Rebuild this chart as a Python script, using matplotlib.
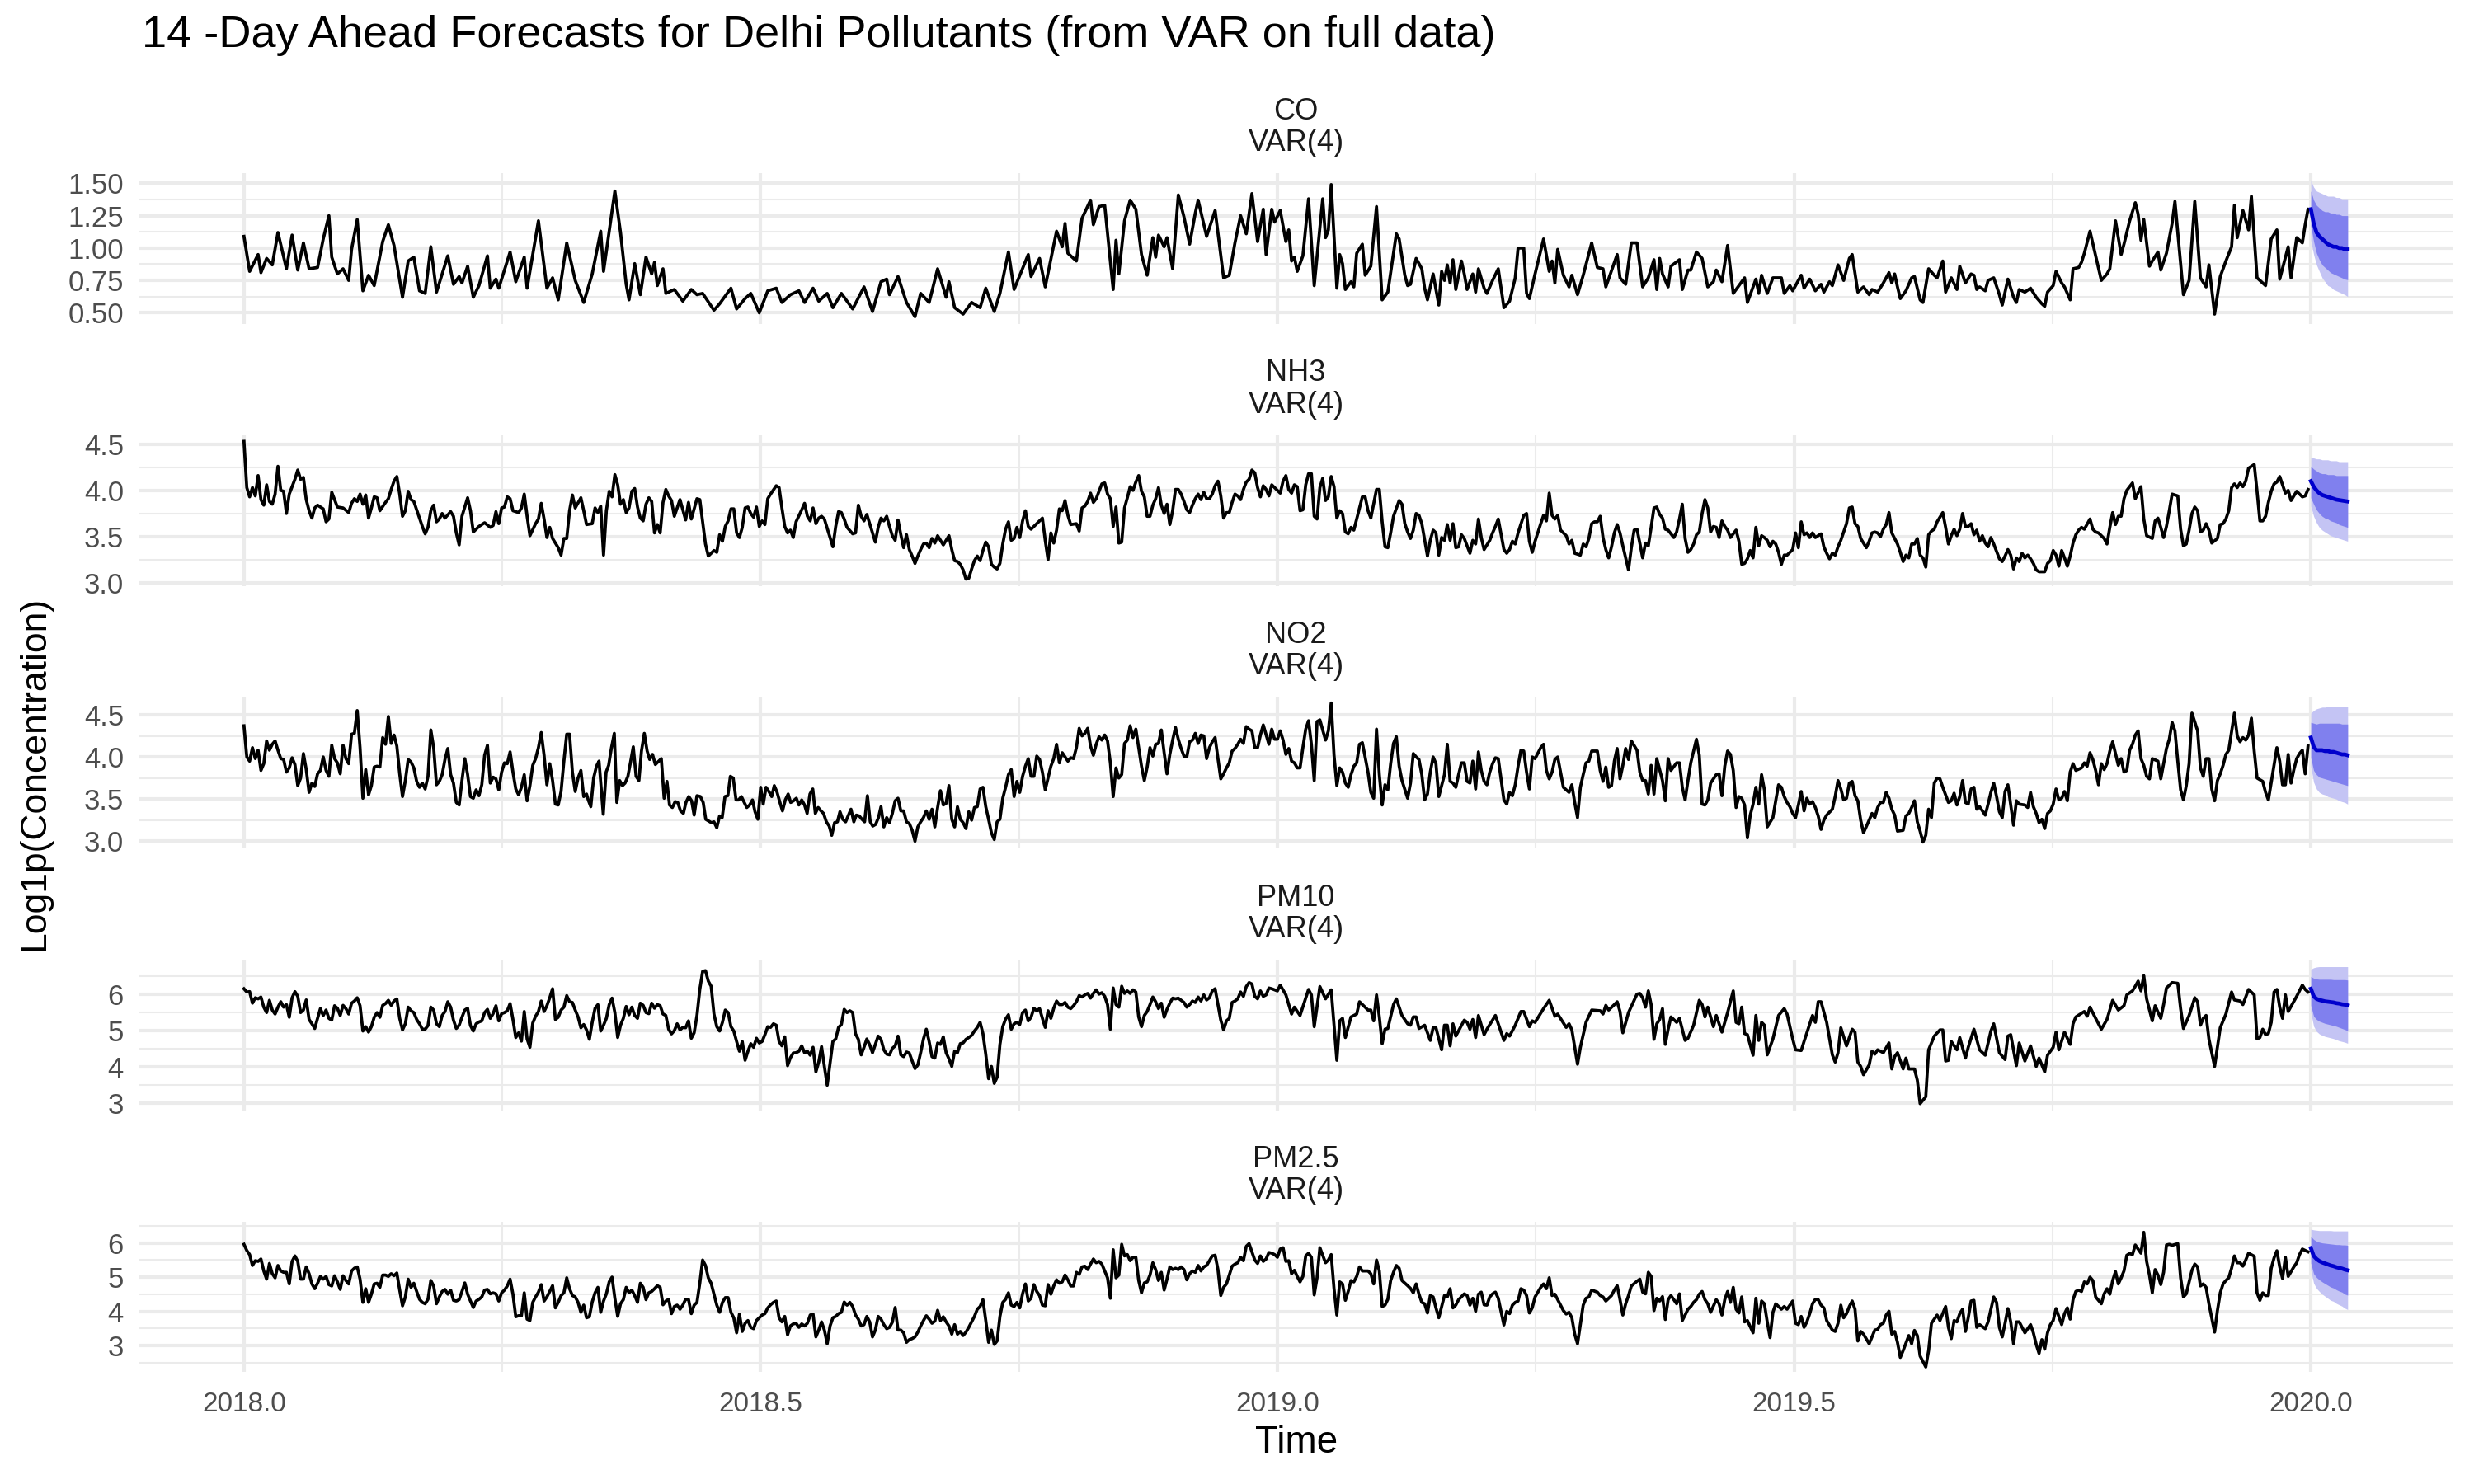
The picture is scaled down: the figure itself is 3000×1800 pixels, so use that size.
import numpy as np
import matplotlib
matplotlib.use("Agg")
import matplotlib.pyplot as plt

plt.rcParams['font.family'] = ['Liberation Sans', 'DejaVu Sans']

# ---------------- observed data (day index from 2018-01-01, log1p value) ----------------
co_obs = [(0,1.09),(2,0.82),(5,0.95),(6,0.81),(8,0.92),(10,0.87),(12,1.12),(15,0.84),(17,1.10),(19,0.83),(21,1.04),(23,0.84),(26,0.85),(28,1.07),(30,1.25),(31,0.93),(33,0.80),(35,0.84),(37,0.75),(38,0.99),(40,1.22),(42,0.67),(44,0.79),(46,0.71),(49,1.05),(51,1.18),(53,1.02),(56,0.62),(58,0.90),(60,0.93),(62,0.67),(64,0.65),(66,1.01),(68,0.66),(72,0.94),(74,0.72),(76,0.78),(77,0.73),(79,0.86),(81,0.62),(83,0.71),(86,0.94),(87,0.69),(89,0.76),(90,0.69),(94,0.97),(96,0.74),(99,0.93),(100,0.69),(104,1.21),(107,0.69),(109,0.77),(111,0.60),(114,1.04),(117,0.75),(120,0.58),(123,0.80),(126,1.13),(127,0.82),(131,1.44),(133,1.12),(135,0.72),(136,0.60),(138,0.88),(140,0.64),(142,0.93),(144,0.80),(145,0.89),(146,0.71),(148,0.84),(149,0.65),(152,0.68),(155,0.59),(158,0.68),(160,0.64),(162,0.65),(166,0.52),(168,0.57),(172,0.69),(174,0.53),(177,0.61),(179,0.65),(182,0.50),(185,0.67),(188,0.69),(190,0.58),(193,0.64),(196,0.67),(198,0.58),(201,0.69),(203,0.59),(206,0.65),(208,0.54),(211,0.65),(215,0.53),(219,0.70),(222,0.51),(225,0.74),(227,0.76),(228,0.64),(231,0.78),(234,0.58),(237,0.47),(239,0.65),(242,0.58),(245,0.84),(248,0.62),(249,0.74),(251,0.54),(254,0.49),(257,0.58),(260,0.54),(262,0.69),(265,0.51),(267,0.65),(270,0.97),(272,0.68),(277,0.95),(278,0.78),(281,0.92),(283,0.70),(287,1.13),(289,1.01),(290,1.19),(291,0.96),(294,0.90),(296,1.23),(299,1.37),(300,1.18),(302,1.32),(304,1.33),(307,0.68),(308,1.06),(309,0.80),(311,1.21),(313,1.37),(315,1.30),(317,0.95),(319,0.79),(321,1.08),(322,0.93),(323,1.10),(325,1.01),(326,1.08),(328,0.84),(330,1.41),(332,1.24),(334,1.03),(336,1.27),(337,1.37),(340,1.09),(343,1.29),(346,0.77),(348,0.79),(350,1.04),(352,1.25),(354,1.11),(356,1.42),(358,1.05),(360,1.30),(361,0.95),(363,1.30),
(364,1.20),(366,1.29),(368,1.05),(369,1.14),(370,0.90),(371,0.93),(372,0.82),(374,0.94),(376,1.38),(378,0.71),(381,1.38),(382,1.08),(383,1.14),(384,1.49),(386,0.69),(387,0.95),(388,0.88),(389,0.68),(391,0.74),(392,0.70),(393,0.96),(395,1.03),(396,0.79),(398,0.86),(400,1.32),(402,0.60),(404,0.66),(407,1.11),(408,1.07),(410,0.79),(411,0.71),(412,0.72),(414,0.92),(416,0.84),(417,0.69),(418,0.60),(420,0.80),(422,0.56),(423,0.82),(424,0.75),(425,0.87),(426,0.73),(427,0.91),(428,0.68),(430,0.90),(431,0.80),(432,0.68),(434,0.80),(435,0.66),(436,0.84),(438,0.69),(439,0.65),(441,0.75),(443,0.84),(445,0.54),(447,0.59),(449,0.77),(450,1.00),(452,1.00),(453,0.65),(454,0.61),(456,0.80),(459,1.07),(461,0.82),(462,0.90),(463,0.73),(464,0.99),(466,0.79),(468,0.70),(469,0.79),(471,0.64),(473,0.79),(476,1.04),(478,0.85),(480,0.84),(481,0.70),(485,0.95),(486,0.77),(488,0.72),(490,1.04),(492,1.04),(494,0.70),(496,0.77),(498,0.91),(499,0.68),(500,0.92),(501,0.80),(503,0.70),(504,0.86),(507,0.91),(508,0.68),(510,0.83),(511,0.83),(513,0.97),(515,0.92),(517,0.70),(519,0.74),(520,0.83),(522,0.74),(524,1.02),(526,0.65),(528,0.71),(530,0.77),(531,0.58),(534,0.76),(535,0.65),(536,0.79),(538,0.65),(540,0.77),(543,0.77),(544,0.65),(546,0.71),(547,0.67),(548,0.71),(550,0.79),(551,0.69),(553,0.76),(555,0.67),(557,0.72),(558,0.66),(560,0.74),(561,0.71),(563,0.87),(565,0.75),(567,0.92),(568,0.95),(570,0.66),(572,0.70),(574,0.64),(575,0.68),(577,0.66),(579,0.73),(581,0.81),(582,0.73),(583,0.80),(584,0.70),(585,0.61),(587,0.67),(589,0.77),(590,0.78),(592,0.60),(593,0.58),(595,0.84),(597,0.79),(598,0.77),(600,0.90),(601,0.66),(603,0.77),(605,0.68),(606,0.86),(608,0.73),(610,0.80),(611,0.79),(612,0.68),(613,0.70),(615,0.67),(616,0.75),(618,0.77),(620,0.64),(621,0.56),(623,0.76),(625,0.62),(626,0.58),(627,0.68),(629,0.66),(631,0.69),(633,0.62),(635,0.57),(636,0.55),(637,0.66),(639,0.71),(640,0.82),(642,0.73),(643,0.70),(645,0.60),(646,0.84),(648,0.85),(649,0.89),(650,0.96),(652,1.13),(654,0.94),(656,0.75),(658,0.80),(659,0.84),(661,1.21),(663,0.95),(664,1.03),(666,1.21),(668,1.35),(669,1.26),(670,1.06),(671,1.22),(673,0.86),(674,0.90),(676,0.97),(677,0.83),(679,0.96),(681,1.19),(682,1.36),(685,0.64),(687,0.75),(689,1.36),(691,0.77),(693,0.70),(694,0.87),(696,0.49),(698,0.78),(700,0.90),(702,1.01),(703,1.33),(704,1.08),(706,1.29),(708,1.14),(709,1.40),(711,0.77),(712,0.75),(714,0.71),(716,1.07),(718,1.14),(719,0.76),(722,1.01),(723,0.77),(725,1.08),(727,1.04),(728,1.18),(729,1.30)]

nh3_obs = [(0,4.53),(1,4.03),(2,3.93),(3,4.03),(4,3.94),(5,4.16),(6,3.90),(7,3.84),(8,4.06),(9,3.88),(10,3.85),(11,3.96),(12,4.26),(13,4.00),(14,3.99),(15,3.75),(16,3.96),(18,4.12),(19,4.22),(20,4.12),(21,4.14),(22,3.90),(23,3.78),(24,3.70),(25,3.81),(26,3.84),(27,3.82),(28,3.80),(29,3.66),(30,3.69),(31,3.98),(33,3.82),(35,3.81),(37,3.76),(38,3.86),(39,3.91),(40,3.88),(41,3.96),(42,3.85),(43,3.95),(44,3.70),(45,3.81),(46,3.93),(47,3.92),(48,3.78),(50,3.87),(51,3.91),(52,4.01),(53,4.10),(54,4.15),(55,3.96),(56,3.72),(57,3.78),(58,3.99),(59,3.90),(60,3.88),(62,3.70),(63,3.61),(64,3.53),(65,3.60),(66,3.78),(67,3.84),(68,3.66),(69,3.69),(70,3.75),(71,3.70),(73,3.77),(74,3.72),(75,3.54),(76,3.41),(77,3.72),(79,3.92),(80,3.78),(81,3.55),(83,3.61),(84,3.63),(85,3.65),(87,3.60),(88,3.62),(89,3.77),(90,3.64),(91,3.81),(92,3.82),(93,3.93),(94,3.91),(95,3.78),(97,3.76),(98,3.81),(99,3.96),(100,3.72),(101,3.51),(103,3.64),(104,3.69),(105,3.86),(106,3.69),(107,3.49),(108,3.60),(109,3.48),(111,3.38),(112,3.30),(113,3.48),(114,3.48),(115,3.78),(116,3.95),(117,3.81),(119,3.92),(120,3.78),(121,3.63),(123,3.64),(124,3.81),(125,3.76),(126,3.83),(127,3.30),(128,3.78),(129,3.99),(130,3.93),(131,4.17),(132,4.06),(133,3.85),(134,3.90),(135,3.76),(136,3.81),(137,3.99),(138,4.02),(139,3.82),(140,3.70),(141,3.67),(142,3.85),(143,3.92),(144,3.88),(145,3.54),(146,3.63),(147,3.54),(148,3.87),(149,4.01),(150,3.94),(151,3.89),(152,3.72),(154,3.90),(155,3.79),(156,3.68),(157,3.87),(158,3.69),(160,3.91),(161,3.90),(162,3.66),(163,3.42),(164,3.29),(166,3.35),(167,3.33),(168,3.52),(169,3.45),(170,3.61),(171,3.67),(172,3.80),(173,3.80),(174,3.54),(175,3.49),(176,3.60),(177,3.81),(178,3.82),(179,3.75),(180,3.71),(181,3.82),(182,3.61),(183,3.67),(184,3.63),(185,3.91),(186,3.96),(188,4.05),(189,4.03),(190,3.81),(191,3.61),(192,3.54),(193,3.57),(194,3.49),(195,3.66),(197,3.79),(198,3.86),(199,3.72),(200,3.67),(201,3.81),(202,3.64),(203,3.70),(204,3.72),(205,3.69),(207,3.49),(208,3.39),(209,3.61),(210,3.77),(211,3.76),(212,3.69),(213,3.60),(215,3.53),(216,3.54),(217,3.84),(218,3.72),(219,3.67),(220,3.74),(221,3.64),(223,3.44),(224,3.60),(225,3.70),(226,3.67),(227,3.72),(228,3.61),(229,3.51),(230,3.46),(231,3.68),(232,3.52),(233,3.38),(234,3.52),(235,3.36),(236,3.29),(237,3.21),(238,3.29),(239,3.36),(240,3.42),(241,3.43),(242,3.38),(243,3.48),(244,3.43),(245,3.51),(247,3.41),(248,3.46),(249,3.51),(250,3.36),(251,3.24),(252,3.23),(253,3.20),(254,3.14),(255,3.04),(256,3.05),(257,3.15),(258,3.24),(259,3.29),(260,3.24),(261,3.35),(262,3.44),(263,3.39),(264,3.20),(265,3.17),(266,3.15),(267,3.21),(268,3.42),(269,3.58),(270,3.66),(271,3.46),(272,3.48),(273,3.60),(274,3.49),(275,3.67),(276,3.78),(277,3.61),(278,3.58),(280,3.64),(281,3.67),(282,3.70),(283,3.46),(284,3.25),(285,3.54),(286,3.43),(287,3.57),(288,3.80),(289,3.78),(290,3.89),(291,3.73),(292,3.63),(294,3.64),(295,3.56),(296,3.81),(297,3.83),(298,3.88),(299,3.97),(300,3.87),(301,3.91),(302,3.99),(303,4.07),(304,4.08),(305,3.96),(306,3.91),(307,3.61),(308,3.82),(309,3.43),(310,3.44),(311,3.81),(312,3.92),(313,4.04),(314,4.00),(315,4.09),(316,4.16),(317,3.99),(318,3.93),(319,3.72),(320,3.72),(321,3.84),(322,3.91),(323,4.03),(324,3.84),(325,3.75),(326,3.85),(327,3.63),(328,3.78),(329,4.01),(330,4.01),(331,3.96),(332,3.88),(333,3.79),(334,3.76),(335,3.84),(336,3.91),(337,3.96),(338,3.90),(339,3.98),(340,3.91),(341,3.91),(342,3.96),(343,4.05),(344,4.10),(345,3.94),(346,3.70),(347,3.76),(348,3.76),(349,3.87),(350,3.96),(351,3.94),(352,3.90),(353,4.01),(354,4.09),(355,4.12),(356,4.22),(357,4.19),(358,4.03),(359,3.93),(360,4.05),(361,4.01),(362,3.94),(363,4.06),(364,4.03),
(366,3.97),(367,4.10),(368,4.16),(369,4.01),(370,3.97),(371,4.06),(372,4.04),(373,3.78),(374,3.79),(375,4.06),(376,4.18),(377,4.18),(378,3.72),(379,3.69),(380,4.03),(381,4.13),(382,3.89),(383,3.93),(384,4.15),(385,4.04),(386,3.70),(387,3.78),(388,3.75),(389,3.55),(390,3.53),(391,3.60),(392,3.57),(393,3.69),(395,3.93),(396,3.93),(397,3.78),(398,3.70),(400,4.01),(401,4.01),(402,3.66),(403,3.39),(404,3.38),(405,3.54),(406,3.72),(408,3.89),(409,3.85),(410,3.64),(411,3.55),(412,3.48),(413,3.57),(414,3.75),(415,3.73),(416,3.64),(418,3.29),(419,3.46),(420,3.57),(421,3.54),(422,3.30),(423,3.49),(424,3.46),(425,3.63),(426,3.46),(427,3.64),(428,3.38),(429,3.39),(430,3.52),(431,3.48),(433,3.32),(434,3.46),(435,3.42),(436,3.69),(437,3.49),(438,3.36),(440,3.46),(441,3.54),(442,3.61),(443,3.69),(445,3.36),(446,3.32),(447,3.36),(448,3.45),(449,3.42),(450,3.54),(452,3.73),(453,3.75),(454,3.45),(455,3.33),(456,3.45),(458,3.64),(459,3.73),(460,3.67),(461,3.97),(462,3.73),(463,3.69),(464,3.73),(465,3.57),(466,3.54),(467,3.51),(468,3.42),(469,3.46),(470,3.32),(472,3.30),(473,3.42),(474,3.39),(475,3.48),(476,3.64),(477,3.66),(478,3.66),(479,3.72),(480,3.49),(481,3.36),(482,3.27),(483,3.39),(484,3.54),(485,3.63),(486,3.54),(487,3.40),(489,3.14),(490,3.38),(491,3.57),(492,3.58),(493,3.43),(494,3.27),(495,3.43),(496,3.40),(497,3.60),(498,3.81),(499,3.82),(500,3.74),(501,3.70),(502,3.58),(503,3.57),(505,3.49),(506,3.55),(507,3.69),(508,3.85),(509,3.48),(510,3.33),(511,3.36),(512,3.42),(513,3.52),(514,3.55),(515,3.75),(516,3.90),(517,3.81),(518,3.55),(519,3.61),(520,3.60),(521,3.49),(522,3.67),(523,3.61),(524,3.57),(525,3.49),(527,3.57),(528,3.45),(529,3.20),(530,3.21),(531,3.26),(532,3.35),(533,3.27),(534,3.60),(535,3.40),(536,3.51),(537,3.49),(538,3.46),(539,3.39),(540,3.45),(541,3.42),(542,3.33),(543,3.20),(544,3.30),(545,3.30),(547,3.36),(548,3.54),(549,3.38),(550,3.66),(551,3.52),(552,3.54),(553,3.49),(554,3.54),(555,3.49),(557,3.53),(558,3.39),(559,3.32),(560,3.26),(561,3.32),(562,3.30),(563,3.39),(564,3.46),(565,3.55),(566,3.64),(567,3.81),(568,3.82),(569,3.64),(570,3.61),(571,3.48),(573,3.38),(574,3.45),(575,3.54),(576,3.55),(577,3.54),(578,3.50),(579,3.58),(580,3.63),(581,3.76),(582,3.54),(584,3.42),(585,3.33),(586,3.23),(587,3.30),(588,3.27),(589,3.42),(590,3.42),(591,3.48),(592,3.30),(593,3.27),(594,3.17),(595,3.52),(596,3.56),(597,3.58),(598,3.66),(600,3.76),(601,3.60),(602,3.42),(603,3.51),(604,3.58),(605,3.51),(606,3.58),(607,3.75),(608,3.61),(609,3.61),(610,3.64),(611,3.52),(612,3.57),(613,3.45),(614,3.51),(615,3.43),(616,3.39),(617,3.49),(618,3.42),(620,3.26),(621,3.23),(622,3.29),(623,3.36),(624,3.30),(625,3.15),(626,3.27),(627,3.23),(628,3.32),(629,3.27),(630,3.30),(631,3.26),(632,3.21),(633,3.14),(634,3.12),(636,3.12),(637,3.21),(638,3.24),(639,3.35),(640,3.30),(641,3.18),(642,3.35),(643,3.27),(644,3.18),(645,3.29),(646,3.43),(647,3.52),(648,3.57),(649,3.60),(650,3.58),(652,3.69),(653,3.58),(654,3.55),(655,3.54),(656,3.51),(657,3.48),(658,3.42),(659,3.60),(660,3.76),(661,3.63),(662,3.72),(663,3.72),(664,3.91),(665,4.00),(666,4.04),(667,4.08),(668,3.91),(670,4.04),(671,3.69),(672,3.51),(674,3.48),(675,3.67),(676,3.70),(677,3.60),(678,3.49),(679,3.61),(680,3.78),(681,3.96),(683,3.94),(684,3.58),(685,3.40),(686,3.42),(687,3.57),(688,3.75),(689,3.82),(690,3.78),(691,3.55),(692,3.57),(693,3.64),(694,3.57),(695,3.43),(697,3.48),(698,3.63),(699,3.64),(700,3.69),(701,3.78),(702,4.03),(703,4.07),(704,4.03),(705,4.08),(706,4.04),(707,4.10),(708,4.24),(710,4.28),(711,3.99),(712,3.67),(713,3.67),(714,3.72),(715,3.87),(716,3.99),(717,4.07),(718,4.09),(719,4.15),(720,4.06),(721,3.97),(722,4.00),(723,3.89),(725,3.99),(726,3.96),(727,3.93),(728,3.94),(729,4.01)]

no2_obs = [(0,4.37),(1,4.00),(2,3.95),(3,4.11),(4,3.98),(5,4.08),(6,3.84),(7,3.92),(8,4.19),(9,4.08),(10,4.15),(11,4.19),(12,4.08),(13,3.98),(14,3.97),(15,3.82),(16,3.87),(17,3.99),(18,3.91),(19,3.66),(20,3.75),(21,4.04),(22,3.85),(23,3.58),(24,3.69),(25,3.65),(26,3.80),(27,3.84),(28,4.00),(29,3.84),(30,3.77),(31,4.14),(32,3.98),(33,3.93),(34,3.80),(35,4.14),(36,3.98),(37,3.92),(38,4.27),(39,4.28),(40,4.55),(41,4.11),(42,3.51),(43,3.85),(44,3.55),(45,3.66),(46,3.88),(47,3.89),(48,3.88),(49,4.23),(50,4.15),(51,4.48),(52,4.16),(53,4.26),(54,4.13),(55,3.80),(56,3.53),(57,3.72),(58,3.97),(59,3.94),(60,3.87),(61,3.71),(62,3.64),(63,3.69),(64,3.62),(65,3.77),(66,4.32),(67,4.11),(68,3.67),(69,3.71),(70,3.79),(71,3.97),(72,4.10),(73,3.79),(74,3.69),(75,3.46),(76,3.43),(77,3.72),(78,3.98),(79,3.79),(80,3.53),(81,3.51),(82,3.61),(83,3.54),(84,3.67),(85,4.02),(86,4.14),(87,3.69),(88,3.76),(89,3.74),(90,3.61),(91,3.82),(92,3.93),(93,3.92),(94,4.06),(95,3.82),(96,3.62),(97,3.55),(98,3.64),(99,3.79),(100,3.48),(101,3.66),(102,3.90),(103,3.98),(104,4.11),(105,4.29),(106,4.02),(107,3.67),(108,3.92),(109,3.72),(110,3.44),(111,3.43),(112,3.59),(113,3.95),(114,4.27),(115,4.27),(116,3.82),(117,3.59),(118,3.75),(119,3.84),(120,3.53),(121,3.56),
(121.6,3.49),(122.5,3.41),(123.5,3.75),(124.5,3.89),(125.4,3.95),(126.9,3.32),(127.9,3.82),(128.8,3.90),(129.8,4.11),(130.8,4.28),(131.7,3.46),(132.7,3.72),(133.7,3.66),(134.6,3.69),(135.6,3.77),(136.6,3.95),(137.5,4.12),(138.5,3.77),(139.5,3.72),(140.4,4.07),(141.4,4.28),(142.4,4.07),(143.3,3.97),(144.3,4.03),(145.3,3.91),(146.2,3.94),(147.4,3.98),(148.4,3.51),(149.4,3.71),(150.3,3.43),(151.3,3.40),(152.3,3.47),(153.2,3.46),(154.2,3.36),(155.2,3.33),(156.1,3.46),(157.1,3.53),(158.1,3.48),(159.0,3.31),(160.0,3.54),(161.2,3.53),(162.2,3.46),(163.1,3.26),(164.1,3.24),(165.1,3.22),(166.0,3.23),(167.0,3.16),(168.0,3.30),(168.9,3.28),(169.9,3.53),(170.9,3.54),(171.8,3.77),(172.8,3.75),(173.8,3.49),(174.7,3.49),(175.7,3.53),(176.7,3.46),(177.6,3.40),(178.6,3.43),(179.6,3.49),(180.5,3.35),(181.5,3.26),(182.5,3.64),(183.4,3.44),(184.4,3.64),(185.4,3.59),(186.4,3.53),(187.3,3.66),(188.3,3.58),(189.3,3.46),(190.2,3.36),(191.2,3.49),(192.2,3.56),(193.1,3.46),(194.1,3.48),(195.1,3.51),(196.0,3.43),(197.0,3.49),(198.0,3.43),(198.9,3.33),(199.9,3.56),(200.9,3.62),(201.8,3.33),(202.8,3.40),(203.8,3.36),(204.7,3.33),(205.7,3.23),(206.7,3.18),(207.6,3.07),(208.6,3.22),(209.6,3.23),(210.5,3.35),(211.5,3.26),(212.5,3.23),(213.4,3.30),(214.4,3.38),(215.4,3.23),(216.3,3.31),(217.3,3.30),(218.3,3.26),(219.2,3.23),(220.2,3.54),(221.2,3.23),(222.1,3.18),(223.1,3.20),(224.1,3.28),(225.0,3.41),(226.0,3.17),(227.0,3.28),
(228,3.22),(229,3.33),(230,3.48),(231,3.51),(232,3.36),(233,3.36),(234,3.23),(235,3.21),(236,3.13),(237,3.00),(238,3.17),(239,3.23),(240,3.28),(241,3.36),(242,3.26),(243,3.38),(244,3.17),(245,3.40),(246,3.60),(247,3.43),(248,3.45),(249,3.66),(250,3.26),(251,3.17),(252,3.41),(253,3.26),(254,3.22),(255,3.15),(256,3.35),(257,3.25),(258,3.40),(259,3.41),(260,3.62),(261,3.64),(262,3.41),(263,3.26),(264,3.10),(265,3.02),(266,3.23),(267,3.26),(268,3.51),(269,3.64),(270,3.79),(271,3.85),(272,3.53),(273,3.71),(274,3.58),(275,3.77),(276,3.89),(277,3.98),(278,3.77),(279,3.77),(280,4.01),(281,3.97),(282,3.82),(283,3.61),(284,3.75),(285,3.89),(286,3.98),(287,4.15),(288,3.93),(289,4.05),(290,4.00),(291,3.95),(292,3.99),(293,3.98),(294,4.11),(295,4.34),(296,4.25),(297,4.28),(298,4.34),(299,4.13),(300,4.02),(301,4.15),(302,4.24),(303,4.20),(304,4.26),(305,4.19),(306,3.93),(307,3.53),(308,3.87),(309,3.75),(310,3.79),(311,4.16),(312,4.20),(313,4.37),(314,4.23),(315,4.33),(316,4.11),(317,3.89),(318,3.72),(319,3.88),(320,4.11),(321,4.01),(322,4.15),(323,4.16),(324,4.32),(325,4.05),(326,3.80),(327,4.03),(328,4.20),(329,4.35),(330,4.21),(331,4.10),(332,4.01),(333,4.00),(334,4.18),(335,4.20),(336,4.28),(337,4.16),(338,4.26),(339,4.25),(340,3.98),(341,4.11),(342,4.18),(343,4.23),(344,3.98),(345,3.74),(346,3.80),(347,3.87),(348,3.93),(349,4.07),(350,4.10),(351,4.15),(352,4.21),(353,4.16),(354,4.36),(355,4.33),(356,4.31),(357,4.11),(358,4.11),(359,4.26),(360,4.38),
(362,4.15),(363,4.33),(364,4.21),(365,4.21),(366,4.31),(367,4.20),(368,4.03),(369,4.10),(370,3.95),(371,3.93),(372,3.87),(373,3.87),(374,4.11),(375,4.33),(376,4.43),(377,4.15),(378,3.72),(379,4.42),(380,4.44),(382,4.20),(383,4.31),(384,4.64),(385,4.02),(386,3.66),(387,3.87),(388,3.82),(389,3.69),(390,3.64),(391,3.79),(392,3.89),(393,3.93),(394,4.15),(395,4.17),(397,3.82),(398,3.58),(399,3.51),(400,4.33),(401,3.79),(402,3.43),(403,3.67),(404,3.61),(405,3.92),(406,4.16),(407,4.24),(408,3.89),(409,3.72),(411,3.51),(412,3.69),(413,4.04),(414,4.00),(415,3.97),(416,3.79),(417,3.49),(418,3.56),(419,3.82),(420,4.00),(421,3.92),(422,3.53),(424,3.79),(425,4.15),(426,3.71),(427,3.69),(428,3.64),(429,3.79),(430,3.93),(431,3.93),(432,3.71),(433,3.69),(434,3.95),(435,3.62),(436,4.06),(437,3.84),(438,3.71),(439,3.67),(440,3.82),(441,3.92),(442,3.99),(443,3.98),(445,3.49),(446,3.44),(447,3.58),(448,3.54),(449,3.67),(450,3.89),(451,4.08),(452,4.07),(453,3.82),(454,3.62),(455,4.00),(456,3.98),(458,4.11),(459,4.15),(460,3.84),(461,3.74),(462,3.82),(463,3.97),(464,4.00),(465,3.82),(466,3.64),(467,3.61),(468,3.58),(469,3.67),(470,3.46),(471,3.28),(472,3.64),(473,3.79),(474,3.93),(475,3.95),(476,4.07),(478,4.07),(479,3.84),(480,3.71),(481,3.88),(482,3.64),(483,3.66),(484,3.95),(485,4.10),(486,3.74),(487,3.90),(488,4.10),(489,3.97),(490,4.19),(492,4.08),(493,3.82),(494,3.72),(495,3.72),(496,3.56),(497,3.90),(498,3.56),(499,3.98),(500,3.85),(501,3.72),(502,3.48),(503,3.98),(504,3.84),(506,3.93),(507,3.93),(508,3.64),(509,3.49),(510,3.72),(511,3.93),(512,4.07),(513,4.21),(514,4.02),(515,3.44),(516,3.43),(517,3.49),(518,3.69),(520,3.79),(521,3.80),(522,3.54),(523,3.89),(524,4.07),(525,4.03),(526,3.84),(527,3.40),(528,3.53),(529,3.51),(530,3.43),(531,3.04),(532,3.31),(533,3.44),(534,3.64),(535,3.44),(536,3.79),(537,3.61),(538,3.17),(540,3.28),(541,3.48),(542,3.67),(543,3.64),(544,3.53),(545,3.46),(546,3.41),(547,3.33),(548,3.28),(549,3.43),(550,3.59),(551,3.36),(552,3.51),(553,3.44),(554,3.47),(555,3.40),(556,3.30),(557,3.14),(558,3.25),(559,3.31),(561,3.38),(562,3.53),(563,3.72),(564,3.62),(565,3.49),(566,3.51),(567,3.69),(568,3.71),(569,3.54),(570,3.48),(571,3.25),(572,3.10),(574,3.25),(575,3.33),(576,3.28),(577,3.40),(578,3.46),(579,3.46),(580,3.58),(581,3.51),(582,3.38),(583,3.31),(584,3.12),(586,3.13),(587,3.30),(588,3.33),(589,3.40),(590,3.48),(591,3.23),(592,3.12),(593,2.99),(594,3.07),(595,3.38),(596,3.28),(597,3.69),(598,3.75),(599,3.74),(600,3.64),(602,3.46),(603,3.48),(604,3.57),(605,3.43),(606,3.53),(607,3.72),(608,3.46),(609,3.44),(610,3.62),(611,3.64),(612,3.38),(613,3.41),(615,3.31),(616,3.44),(617,3.58),(618,3.69),(619,3.53),(620,3.35),(621,3.28),(622,3.59),(623,3.67),(624,3.43),(625,3.19),(626,3.48),(627,3.44),(629,3.43),(630,3.40),(631,3.58),(632,3.41),(633,3.33),(634,3.22),(635,3.26),(636,3.15),(637,3.33),(638,3.36),(639,3.44),(640,3.62),(641,3.49),(642,3.51),(643,3.59),(644,3.48),(645,3.82),(646,3.92),(647,3.84),(649,3.87),(650,3.93),(651,3.89),(652,4.05),(653,3.97),(654,3.84),(655,3.67),(656,3.92),(657,3.85),(658,3.92),(659,4.07),(660,4.18),(662,3.90),(663,3.98),(664,3.82),(665,3.84),(666,4.08),(667,4.15),(668,4.26),(669,4.31),(670,3.98),(671,3.90),(672,3.77),(673,3.74),(674,3.98),(676,3.95),(677,3.74),(678,3.92),(679,4.10),(680,4.21),(681,4.41),(682,4.31),(683,3.95),(684,3.61),(685,3.49),(686,3.66),(687,3.92),(688,4.52),(690,4.31),(691,3.87),(692,3.77),(693,3.98),(694,3.98),(695,3.62),(696,3.48),(697,3.72),(698,3.80),(699,3.90),(700,4.03),(701,4.08),(703,4.52),(704,4.25),(705,4.18),(706,4.23),(707,4.20),(708,4.26),(709,4.46),(710,4.07),(711,3.75),(712,3.73),(713,3.71),(714,3.58),(715,3.49),(717,3.90),(718,4.11),(719,3.95),(720,3.67),(721,3.67),(722,4.03),(723,3.69),(724,3.85),(725,3.98),(726,4.04),(727,4.08),(728,3.80),(729,4.13)]

# PM10 / PM2.5: first year read day by day (day 0 ... 363), second year as (day, value)
pm10_y1 = [6.16,6.07,6.08,5.76,5.91,5.88,5.93,5.65,5.50,5.84,
5.57,5.46,5.65,5.80,5.65,5.72,5.37,5.91,6.08,5.95,
5.50,5.57,5.85,5.31,5.19,5.06,5.34,5.61,5.42,5.57,
5.34,5.29,5.69,5.62,5.42,5.70,5.61,5.46,5.76,
5.82,5.91,5.69,4.99,5.11,4.96,5.11,5.37,5.50,5.37,
5.70,5.75,5.84,5.70,5.82,5.88,5.34,5.02,5.19,5.65,
5.55,5.50,5.31,5.19,5.04,5.04,5.14,5.65,5.57,5.19,
5.11,5.42,5.53,5.80,5.65,5.29,5.06,5.15,5.37,
5.57,5.62,5.14,4.99,5.19,5.24,5.27,5.50,5.59,5.34,
5.47,5.69,5.27,5.47,5.50,5.55,5.75,5.31,4.81,4.94,
4.71,5.53,4.77,4.54,5.21,5.40,5.53,5.82,5.53,
5.69,5.91,6.16,5.31,5.37,5.57,5.65,5.97,5.80,5.78,
5.57,5.38,5.08,5.17,5.02,4.76,5.23,5.62,5.72,4.99,
5.15,5.34,5.72,5.90,5.50,4.81,5.15,5.34,5.67,5.44,
5.65,5.42,5.34,5.76,5.70,5.50,5.47,5.76,5.62,
5.72,5.69,5.46,5.42,5.04,4.91,5.00,5.19,5.02,5.09,
5.08,5.27,4.79,4.94,5.42,6.14,6.64,6.66,6.37,6.23,
5.46,5.11,4.99,5.23,5.57,5.50,5.11,4.99,4.70,
4.43,4.70,4.18,4.43,4.64,4.54,4.79,4.66,4.70,4.89,
5.11,5.09,5.19,5.15,4.70,4.58,4.83,4.03,4.25,4.38,
4.39,4.43,4.58,4.39,4.43,4.32,4.54,3.86,4.13,4.56,
4.01,3.49,4.09,4.70,4.77,5.09,5.17,5.59,5.50,
5.55,5.50,4.91,4.76,4.33,4.54,4.77,4.61,4.39,4.62,
4.85,4.76,4.47,4.35,4.33,4.51,4.58,4.85,4.33,4.28,
4.41,4.38,4.16,3.95,4.05,4.39,4.77,5.04,4.70,
4.28,4.24,4.66,4.62,4.83,4.39,4.22,4.01,4.43,4.39,
4.64,4.66,4.76,4.81,4.87,4.99,5.09,5.23,4.92,
4.35,3.67,4.01,3.54,3.71,4.62,5.11,5.32,5.44,5.04,
5.19,5.23,5.17,5.50,5.57,5.27,5.37,5.62,5.55,5.61,
5.34,5.09,5.55,5.34,5.62,5.82,5.72,5.72,5.78,
5.65,5.61,5.69,5.80,5.97,5.93,5.99,6.03,5.90,6.03,
6.13,6.01,6.05,5.95,5.72,5.04,6.18,5.72,5.65,6.23,
6.03,6.10,6.03,6.13,6.07,5.38,5.11,5.42,5.53,5.72,
5.93,5.80,5.61,5.76,5.37,5.59,5.76,5.90,5.88,
5.90,5.84,5.78,5.65,5.72,5.82,5.78,5.93,5.82,5.99,
5.85,5.91,6.10,6.16,5.72,5.29,5.02,5.27,5.34,
5.78,5.82,5.88,6.07,5.95,6.22,6.33,6.29,5.95,5.88,
6.10,5.95,5.99,6.18,6.16]

pm10_y2 = [(365,6.10),(366,6.26),(368,5.99),(370,5.46),(371,5.65),(373,5.42),(376,6.14),(377,5.99),(378,5.11),(380,6.22),(382,5.88),(384,6.13),(386,4.18),(387,5.27),(388,5.34),(389,4.81),(391,5.38),(393,5.46),(394,5.80),(397,5.57),(398,5.57),(399,5.27),(400,5.99),(401,5.38),(402,4.64),(403,5.04),(404,5.06),(406,5.72),(407,5.88),(409,5.42),(411,5.19),(412,5.15),(413,5.38),(414,5.38),(415,5.06),(417,5.15),(419,4.73),(420,5.08),(421,5.08),(423,4.47),(424,5.15),(425,5.15),(426,4.58),(427,5.19),(428,4.85),(431,5.29),(432,5.23),(433,5.04),(434,5.31),(435,4.81),(436,5.42),(438,4.89),(439,5.04),(442,5.42),(445,4.73),(446,4.92),(447,4.85),(449,5.15),(451,5.53),(452,5.53),(454,5.11),(455,5.27),(456,5.23),(459,5.61),(461,5.84),(463,5.40),(464,5.46),(467,5.09),(468,5.19),(469,5.02),(471,4.07),(472,4.54),(474,5.23),(476,5.57),(479,5.55),(480,5.46),(481,5.70),(482,5.57),(484,5.72),(485,5.80),(486,5.53),(487,4.94),(489,5.50),(492,6.01),(493,6.03),(494,5.91),(495,5.65),(496,6.10),(497,5.72),(498,4.76),(499,5.19),(500,5.31),(501,5.61),(502,4.62),(503,5.04),(504,5.38),(506,5.23),(507,5.34),(509,4.73),(510,4.79),(512,5.15),(514,5.84),(515,5.72),(516,5.38),(517,5.65),(519,5.11),(520,5.42),(522,4.96),(524,5.50),(526,6.10),(527,5.23),(528,5.19),(529,5.65),(530,4.92),(531,4.89),(533,4.32),(534,5.42),(535,4.73),(536,5.23),(537,5.15),(538,4.33),(540,4.77),(542,5.42),(544,5.61),(545,5.46),(547,4.77),(548,4.47),(550,4.45),(551,4.70),(554,5.42),(555,5.23),(556,5.80),(557,5.80),(559,5.23),(561,4.33),(562,4.13),(563,4.39),(564,5.08),(566,4.58),(568,5.04),(569,4.96),(570,4.13),(571,4.01),(572,3.78),(574,4.05),(575,4.43),(576,4.35),(577,4.47),(579,4.39),(581,4.66),(582,3.94),(583,4.28),(584,4.39),(586,3.94),(587,4.24),(588,3.94),(590,3.94),(591,3.63),(592,2.98),(594,3.17),(595,4.47),(597,4.85),(599,5.02),(600,5.02),(601,4.16),(602,4.18),(603,4.70),(605,4.47),(606,4.81),(608,4.24),(609,4.54),(611,5.04),(613,4.47),(615,4.32),(617,4.99),(618,5.19),(620,4.39),(622,4.20),(623,4.85),(624,4.89),(626,4.03),(627,4.66),(629,4.16),(631,4.58),(633,4.01),(634,4.24),(636,3.86),(637,4.32),(639,4.54),(640,4.96),(641,4.47),(643,4.96),(645,4.62),(646,5.19),(647,5.38),(650,5.53),(651,5.40),(652,5.65),(654,5.34),(656,5.04),(658,5.31),(660,5.84),(662,5.57),(664,5.69),(665,5.99),(667,6.10),(668,6.23),(669,6.37),(670,6.10),(671,6.52),(672,5.88),(674,5.27),(675,5.69),(677,5.34),(678,5.72),(679,6.18),(681,6.33),(683,6.31),(684,5.61),(685,5.06),(687,5.42),(689,5.91),(690,5.80),(691,5.15),(692,5.34),(693,5.42),(694,4.77),(696,4.01),(697,4.54),(698,5.08),(700,5.46),(702,6.07),(703,5.85),(705,5.82),(706,5.72),(708,6.14),(710,5.99),(711,4.77),(712,4.81),(713,5.04),(714,4.89),(715,4.92),(716,5.23),(717,6.07),(718,6.14),(719,5.65),(720,5.34),(721,5.99),(722,5.53),(725,5.95),(727,6.26),(728,6.14),(729,6.07)]

pm25_y1 = [5.96,5.78,5.66,5.34,5.48,5.46,5.53,5.18,4.94,5.40,
5.10,4.98,5.34,5.18,5.14,5.14,4.80,5.46,5.62,5.46,
4.94,4.94,5.30,5.10,4.80,4.66,4.82,5.02,4.94,5.02,
4.78,4.74,5.04,4.86,4.64,5.04,4.90,4.80,5.18,
5.26,5.30,4.94,4.26,4.66,4.26,4.50,4.80,4.82,4.70,
5.06,5.06,5.02,5.10,5.04,5.12,4.62,4.16,4.42,4.94,
4.70,4.82,4.58,4.35,4.26,4.22,4.35,4.90,4.74,4.22,
4.42,4.58,4.64,4.50,4.62,4.32,4.30,4.34,4.58,
4.83,4.50,4.30,4.11,4.30,4.35,4.42,4.62,4.64,4.51,
4.54,4.51,4.30,4.54,4.62,4.74,4.94,4.50,3.84,3.87,
3.87,4.54,3.77,3.73,4.26,4.42,4.56,4.78,4.30,
4.42,4.58,4.75,4.10,4.26,4.46,4.54,4.98,4.66,4.46,
4.42,4.26,3.97,4.18,3.81,3.84,4.27,4.54,4.70,3.97,
4.30,4.51,4.86,5.00,4.38,3.85,4.22,4.34,4.70,4.54,
4.62,4.46,4.26,4.82,4.70,4.34,4.54,4.58,4.66,
4.75,4.70,4.19,4.30,4.35,3.93,4.14,4.18,4.06,4.18,
4.35,4.35,3.93,4.18,4.26,4.82,5.50,5.34,4.98,4.82,
4.50,4.18,3.97,4.26,4.40,4.40,3.97,3.81,3.37,
3.92,3.41,3.65,3.73,3.53,3.49,3.73,3.81,3.89,3.93,
4.10,4.19,4.26,4.30,3.81,3.69,3.85,3.31,3.57,3.63,
3.65,3.53,3.63,3.57,3.65,3.89,3.92,3.25,3.45,3.69,
3.45,3.05,3.57,3.81,3.85,3.93,3.97,4.27,4.18,
4.26,4.14,3.89,3.77,3.57,3.61,3.85,3.69,3.25,3.45,
3.85,3.77,3.61,3.49,3.53,3.68,4.11,3.45,3.45,3.37,
3.09,3.17,3.20,3.25,3.39,3.57,3.73,3.87,3.77,
3.65,3.71,4.03,3.73,3.84,3.69,3.57,3.33,3.61,3.33,
3.41,3.29,3.39,3.53,3.69,3.85,4.06,4.14,4.34,
3.73,3.09,3.45,3.03,3.13,3.85,4.26,4.35,4.54,4.18,
4.14,4.26,4.10,4.51,4.80,4.30,4.38,4.78,4.58,4.46,
4.18,4.16,4.78,4.50,4.74,4.92,4.82,4.86,5.06,
4.92,4.74,4.74,5.14,5.08,5.30,5.32,5.22,5.38,5.53,
5.42,5.46,5.38,5.18,4.98,4.38,5.80,4.98,5.06,5.96,
5.62,5.66,5.48,5.58,5.58,4.90,4.54,4.83,4.86,5.06,
5.42,5.22,4.90,5.14,4.62,4.94,5.30,5.22,5.26,
5.22,5.30,5.22,4.92,5.10,5.18,5.14,5.34,5.18,5.30,
5.34,5.48,5.62,5.64,5.22,4.46,4.70,4.80,5.06,
5.32,5.38,5.42,5.58,5.48,5.90,5.98,5.74,5.50,5.40,
5.62,5.46,5.53,5.72,5.70]

pm25_y2 = [(364,5.66),(365,5.58),(366,5.82),(367,5.86),(368,5.46),(369,5.48),(370,5.10),(371,5.20),(372,5.02),(373,4.86),(374,5.02),(375,5.62),(376,5.70),(377,5.58),(378,4.48),(379,4.98),(380,5.86),(382,5.42),(383,5.50),(384,5.66),(385,4.66),(386,3.89),(387,4.86),(388,4.80),(389,4.32),(390,4.58),(391,4.90),(392,4.86),(393,5.02),(394,5.30),(395,5.18),(397,5.18),(398,5.10),(399,4.80),(400,5.50),(401,5.18),(402,4.14),(403,4.18),(404,4.35),(405,4.90),(406,5.14),(407,5.34),(408,5.26),(409,4.90),(411,4.75),(412,4.67),(413,4.54),(414,4.80),(415,4.50),(416,4.26),(417,4.22),(418,3.95),(419,4.46),(420,4.42),(421,4.10),(422,3.81),(424,4.46),(425,4.42),(426,4.66),(427,4.10),(428,4.18),(429,4.34),(431,4.51),(432,4.46),(433,4.18),(434,4.38),(435,4.00),(436,4.50),(437,4.56),(438,4.19),(439,4.18),(440,4.42),(441,4.51),(442,4.56),(443,4.38),(445,3.60),(446,4.00),(447,3.93),(448,4.18),(449,4.26),(450,4.30),(451,4.66),(452,4.62),(453,4.46),(454,3.95),(455,4.10),(456,4.42),(458,4.70),(459,4.80),(460,4.66),(461,4.98),(462,4.46),(463,4.50),(464,4.34),(465,4.18),(466,4.02),(467,3.92),(468,3.97),(469,3.81),(470,3.33),(471,3.05),(472,3.61),(473,4.18),(474,4.38),(475,4.42),(476,4.62),(478,4.56),(479,4.46),(480,4.42),(481,4.30),(482,4.38),(483,4.46),(484,4.62),(485,4.75),(486,4.34),(487,3.89),(488,4.22),(489,4.46),(490,4.74),(492,4.88),(493,4.94),(494,4.56),(495,4.51),(496,5.14),(497,5.02),(498,4.02),(499,4.38),(500,4.30),(501,4.43),(502,3.76),(503,4.34),(504,4.46),(506,4.22),(507,4.51),(508,3.73),(509,3.89),(510,4.06),(511,4.14),(512,4.26),(513,4.34),(514,4.50),(515,4.58),(516,4.34),(517,4.22),(518,3.97),(520,4.34),(521,4.22),(522,3.89),(523,4.34),(524,4.58),(525,4.26),(526,4.70),(527,4.06),(528,3.95),(529,4.42),(530,3.69),(531,3.73),(533,3.37),(534,4.38),(535,3.65),(536,4.30),(537,4.22),(538,3.69),(539,3.23),(540,3.97),(541,4.22),(542,4.14),(543,4.06),(544,4.14),(545,4.06),(547,4.30),(548,3.65),(549,3.61),(550,3.85),(551,3.53),(552,3.69),(553,3.93),(554,4.22),(555,4.35),(556,4.34),(557,4.18),(558,4.10),(559,3.73),(561,3.45),(562,3.41),(563,3.65),(564,4.18),(565,3.81),(566,3.93),(567,4.14),(568,4.30),(569,4.06),(570,3.13),(571,3.41),(572,3.33),(574,3.05),(575,3.25),(576,3.45),(577,3.47),(578,3.61),(579,3.65),(580,3.89),(581,4.00),(582,3.33),(583,3.41),(584,3.09),(585,2.65),(586,2.85),(588,3.29),(589,3.05),(590,3.44),(591,3.29),(592,2.69),(594,2.37),(595,2.85),(596,3.65),(597,3.77),(598,3.89),(599,3.73),(601,4.14),(602,3.53),(603,3.20),(604,3.73),(605,3.69),(606,3.93),(607,4.06),(608,3.41),(609,3.81),(610,4.30),(611,4.32),(612,3.53),(613,3.61),(615,3.49),(616,3.69),(617,4.06),(618,4.42),(619,4.26),(620,3.53),(621,3.25),(622,3.65),(623,4.08),(624,3.69),(625,3.05),(626,3.69),(627,3.69),(629,3.37),(630,3.49),(631,3.61),(632,3.37),(633,3.03),(634,2.77),(635,3.17),(636,2.89),(637,3.37),(638,3.61),(639,3.73),(640,4.08),(642,3.61),(643,3.93),(644,4.10),(645,3.77),(646,4.34),(647,4.58),(648,4.62),(649,4.58),(650,4.86),(651,4.80),(652,5.00),(653,4.90),(654,4.42),(656,4.22),(657,4.51),(658,4.66),(659,4.50),(660,4.90),(661,5.16),(662,4.80),(663,4.98),(664,5.18),(665,5.64),(666,5.69),(667,5.66),(668,5.94),(670,5.70),(671,6.31),(672,5.46),(673,5.06),(674,4.54),(675,5.22),(676,5.06),(677,4.78),(678,5.14),(679,5.94),(680,5.96),(681,5.93),(683,5.98),(684,4.98),(685,4.42),(686,4.51),(687,4.86),(688,5.20),(689,5.38),(690,5.30),(691,4.74),(692,4.80),(693,4.70),(694,4.22),(696,3.39),(697,4.02),(698,4.54),(699,4.80),(700,4.90),(701,4.98),(702,5.26),(703,5.62),(704,5.42),(705,5.42),(706,5.32),(707,5.50),(708,5.70),(710,5.61),(711,4.54),(712,4.32),(713,4.54),(714,4.46),(715,4.46),(716,5.26),(717,5.56),(718,5.77),(719,5.30),(720,4.96),(721,5.58),(722,5.02),(724,5.30),(725,5.42),(726,5.66),(727,5.82),(728,5.78),(729,5.74)]

# ---------------- 14-day forecasts (h = 1..14) ----------------
horizon = list(range(1, 15))
co_fc   = [1.30,1.19,1.12,1.09,1.07,1.05,1.03,1.02,1.01,1.01,1.00,1.00,0.99,0.99]
co_hi95 = [1.52,1.47,1.44,1.43,1.42,1.41,1.40,1.40,1.40,1.39,1.39,1.38,1.38,1.38]
co_lo95 = [1.06,0.95,0.87,0.82,0.77,0.74,0.71,0.70,0.68,0.67,0.66,0.65,0.64,0.625]
co_hi80 = [1.44,1.37,1.33,1.31,1.29,1.28,1.28,1.27,1.27,1.26,1.26,1.25,1.25,1.25]
co_lo80 = [1.17,1.05,0.96,0.91,0.87,0.85,0.83,0.81,0.80,0.79,0.78,0.77,0.76,0.755]

nh3_fc   = [4.10,4.04,4.00,3.97,3.95,3.94,3.93,3.92,3.91,3.90,3.895,3.89,3.885,3.88]
nh3_hi95 = [4.35,4.35,4.34,4.34,4.33,4.33,4.33,4.32,4.32,4.32,4.31,4.31,4.31,4.31]
nh3_lo95 = [3.83,3.72,3.65,3.60,3.57,3.55,3.53,3.51,3.50,3.49,3.48,3.47,3.46,3.45]
nh3_hi80 = [4.26,4.23,4.21,4.19,4.18,4.18,4.17,4.17,4.17,4.16,4.16,4.16,4.16,4.16]
nh3_lo80 = [3.92,3.85,3.79,3.75,3.72,3.70,3.69,3.67,3.66,3.65,3.63,3.62,3.61,3.60]

no2_fc   = [4.23,4.12,4.08,4.08,4.08,4.07,4.07,4.06,4.06,4.05,4.04,4.03,4.03,4.02]
no2_hi95 = [4.52,4.55,4.57,4.58,4.59,4.59,4.60,4.60,4.60,4.60,4.60,4.60,4.60,4.60]
no2_lo95 = [3.88,3.70,3.62,3.58,3.56,3.55,3.53,3.52,3.51,3.50,3.48,3.47,3.46,3.44]
no2_hi80 = [4.41,4.40,4.39,4.40,4.40,4.40,4.40,4.40,4.40,4.40,4.40,4.39,4.39,4.39]
no2_lo80 = [3.99,3.84,3.79,3.76,3.75,3.74,3.73,3.72,3.71,3.70,3.69,3.68,3.67,3.66]

pm10_fc   = [6.16,5.95,5.88,5.85,5.83,5.81,5.80,5.79,5.78,5.76,5.75,5.73,5.72,5.70]
pm10_hi95 = [6.70,6.74,6.76,6.77,6.77,6.77,6.77,6.77,6.77,6.77,6.77,6.77,6.77,6.77]
pm10_lo95 = [5.50,5.12,4.98,4.91,4.87,4.84,4.82,4.80,4.78,4.75,4.72,4.70,4.68,4.65]
pm10_hi80 = [6.50,6.45,6.43,6.42,6.42,6.42,6.42,6.42,6.41,6.41,6.41,6.41,6.41,6.40]
pm10_lo80 = [5.70,5.40,5.31,5.26,5.23,5.20,5.18,5.16,5.14,5.12,5.09,5.06,5.03,5.00]

pm25_fc   = [5.85,5.62,5.53,5.47,5.43,5.40,5.37,5.34,5.32,5.29,5.27,5.25,5.22,5.20]
pm25_hi95 = [6.40,6.38,6.37,6.36,6.36,6.36,6.36,6.36,6.35,6.35,6.35,6.35,6.35,6.35]
pm25_lo95 = [5.20,4.82,4.67,4.58,4.50,4.44,4.38,4.32,4.29,4.23,4.19,4.15,4.09,4.05]
pm25_hi80 = [6.19,6.10,6.05,6.02,6.00,5.99,5.98,5.97,5.96,5.95,5.95,5.94,5.94,5.93]
pm25_lo80 = [5.41,5.10,4.99,4.92,4.86,4.81,4.76,4.71,4.68,4.63,4.59,4.56,4.50,4.47]

x_ticks = [2018.0, 2018.5, 2019.0, 2019.5, 2020.0]
x_tick_labels = ["2018.0", "2018.5", "2019.0", "2019.5", "2020.0"]

# ---------------- assemble panels ----------------
def pairs(p):
    d = np.array([a for a, _ in p], dtype=float)
    v = np.array([b for _, b in p], dtype=float)
    return d, v

co_d, co_v = pairs(co_obs)
nh3_d, nh3_v = pairs(nh3_obs)
no2_d, no2_v = pairs(no2_obs)
p10_d2, p10_v2 = pairs(pm10_y2)
p25_d2, p25_v2 = pairs(pm25_y2)
p10_d = np.concatenate([np.arange(len(pm10_y1)), p10_d2])
p10_v = np.concatenate([np.array(pm10_y1), p10_v2])
p25_d = np.concatenate([np.arange(len(pm25_y1)), p25_d2])
p25_v = np.concatenate([np.array(pm25_y1), p25_v2])

panels = [
    ("CO",    co_d,  co_v,  co_fc,   co_lo80,   co_hi80,   co_lo95,   co_hi95,
     (0.415, 1.578), [0.50, 0.75, 1.00, 1.25, 1.50], [0.625, 0.875, 1.125, 1.375], "{:.2f}"),
    ("NH3",   nh3_d, nh3_v, nh3_fc,  nh3_lo80,  nh3_hi80,  nh3_lo95,  nh3_hi95,
     (2.967, 4.596), [3.0, 3.5, 4.0, 4.5], [3.25, 3.75, 4.25], "{:.1f}"),
    ("NO2",   no2_d, no2_v, no2_fc,  no2_lo80,  no2_hi80,  no2_lo95,  no2_hi95,
     (2.922, 4.709), [3.0, 3.5, 4.0, 4.5], [3.25, 3.75, 4.25], "{:.1f}"),
    ("PM10",  p10_d, p10_v, pm10_fc, pm10_lo80, pm10_hi80, pm10_lo95, pm10_hi95,
     (2.795, 6.963), [3, 4, 5, 6], [3.5, 4.5, 5.5, 6.5], "{:.0f}"),
    ("PM2.5", p25_d, p25_v, pm25_fc, pm25_lo80, pm25_hi80, pm25_lo95, pm25_hi95,
     (2.22, 6.628), [3, 4, 5, 6], [2.5, 3.5, 4.5, 5.5, 6.5], "{:.0f}"),
]

fig = plt.figure(figsize=(15, 9), dpi=200)
fig.patch.set_facecolor("white")

bottoms = [0.7818, 0.6052, 0.4287, 0.2518, 0.0754]
left, width, height = 0.056, 0.9357, 0.1015
grid_col = "#EBEBEB"
txt_col = "#4D4D4D"

fc_t = 2020.0 + (np.array(horizon) - 1) / 365.0

for i, (name, d, v, fc, lo80, hi80, lo95, hi95, ylim, yt, ytm, fmt) in enumerate(panels):
    ax = fig.add_axes([left, bottoms[i], width, height])
    t = 2018.0 + d / 365.0
    ax.set_xlim(2017.898, 2020.138)
    ax.set_ylim(*ylim)
    ax.set_xticks(x_ticks)
    ax.set_xticks([2018.25, 2018.75, 2019.25, 2019.75], minor=True)
    ax.set_yticks(yt)
    ax.set_yticks(ytm, minor=True)
    ax.set_yticklabels([fmt.format(y) for y in yt])
    ax.grid(which="major", color=grid_col, lw=1.5)
    ax.grid(which="minor", color=grid_col, lw=0.75)
    ax.set_axisbelow(True)
    for s in ax.spines.values():
        s.set_visible(False)
    ax.tick_params(which="both", length=0)
    ax.tick_params(axis="y", labelsize=12.5, labelcolor=txt_col, pad=6.5)
    ax.tick_params(axis="x", labelsize=12.0, labelcolor=txt_col, pad=8.5)
    if i < 4:
        ax.tick_params(axis="x", labelbottom=False)
    else:
        ax.set_xticklabels(x_tick_labels)

    ax.plot(t, v, color="black", lw=1.35, solid_joinstyle="round", zorder=3)
    ax.fill_between(fc_t, lo95, hi95, color="#C4C4F4", lw=0, zorder=2)
    ax.fill_between(fc_t, lo80, hi80, color="#8080EE", lw=0, zorder=2.5)
    ax.plot(fc_t, fc, color="#0000CC", lw=1.7, zorder=4)

    ax.text(0.5, 1.306, name + "\nVAR(4)", transform=ax.transAxes, ha="center",
            va="center", fontsize=13, linespacing=1.12, color="#1A1A1A")

fig.text(0.0573, 0.976, "14 -Day Ahead Forecasts for Delhi Pollutants (from VAR on full data)",
         ha="left", va="center", fontsize=19.5, color="black")
fig.text(0.014, 0.479, "Log1p(Concentration)", rotation=90, ha="center", va="center",
         fontsize=16, color="black")
fig.text(0.524, 0.0278, "Time", ha="center", va="center", fontsize=16.5, color="black")

fig.savefig("out.png", dpi=200, facecolor="white")
